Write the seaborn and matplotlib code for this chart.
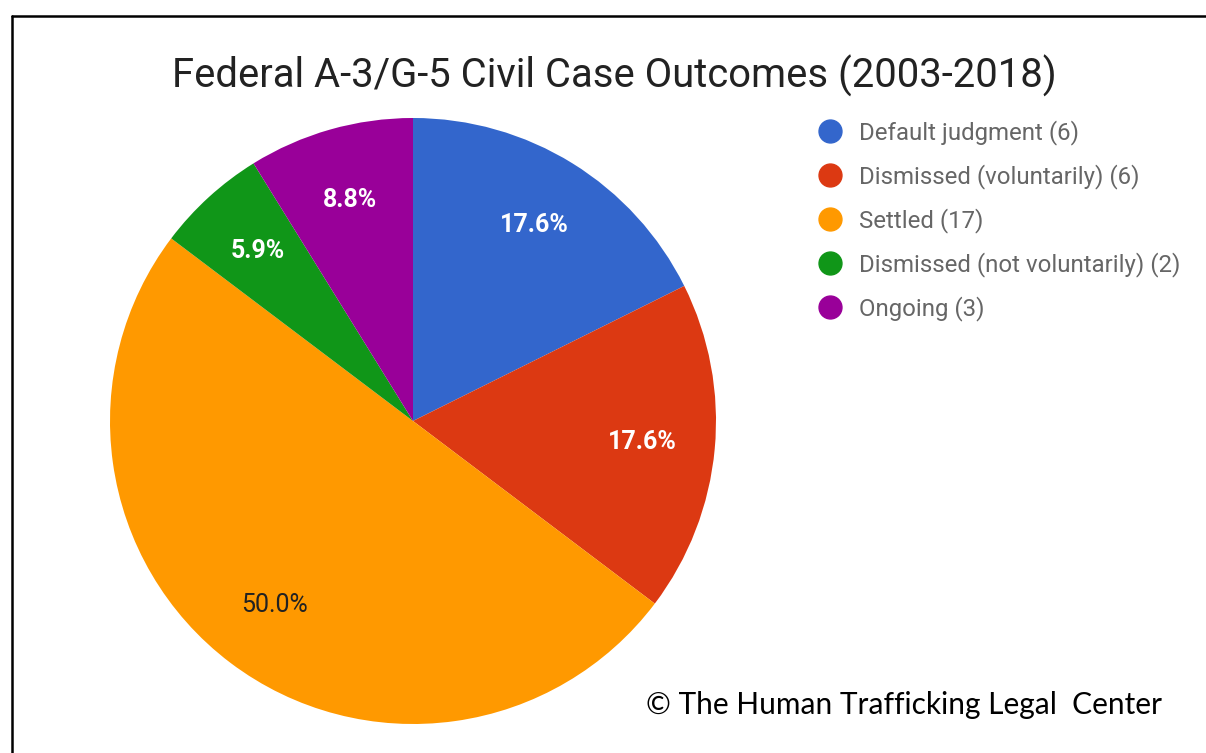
import matplotlib
matplotlib.use("Agg")
import matplotlib.pyplot as plt
import seaborn as sns
from matplotlib.lines import Line2D

categories = [
    "Default judgment",
    "Dismissed (voluntarily)",
    "Settled",
    "Dismissed (not voluntarily)",
    "Ongoing",
]
counts = [6, 6, 17, 2, 3]
colors = ["#3366CC", "#DC3912", "#FF9900", "#109618", "#990099"]
title = "Federal A-3/G-5 Civil Case Outcomes (2003-2018)"
credit = "\u00a9 The Human Trafficking Legal  Center"

sns.set_theme(style="white")
plt.rcParams["font.family"] = ["Roboto", "DejaVu Sans"]

fig = plt.figure(figsize=(12.06, 7.53), dpi=100)
W, H = 1206, 753

# pie axes: centre (413, 421), radius 303 px
cx, cy, r = 413, 421, 303
ax = fig.add_axes([(cx - r) / W, (H - cy - r) / H, 2 * r / W, 2 * r / H])
palette = sns.color_palette(colors)

wedges, texts, autotexts = ax.pie(
    counts,
    colors=palette,
    startangle=90,
    counterclock=False,
    autopct="%1.1f%%",
    pctdistance=0.76,
    wedgeprops=dict(linewidth=0),
    textprops=dict(fontsize=18),
)
for i, t in enumerate(autotexts):
    if counts[i] == max(counts):
        t.set_color("#222222")
    else:
        t.set_color("white")
        t.set_fontweight("bold")
ax.set_xlim(-1, 1)
ax.set_ylim(-1, 1)
ax.set_aspect("equal")
ax.axis("off")

fig.text(614 / W, 1 - 76 / H, title, ha="center", va="center",
         fontsize=28.8, color="#222222")

handles = [
    Line2D([0], [0], marker="o", linestyle="", markersize=16.5,
           markerfacecolor=c, markeredgecolor=c)
    for c in palette
]
labels = [f"{c} ({n})" for c, n in zip(categories, counts)]
fig.legend(
    handles, labels,
    loc="upper left",
    bbox_to_anchor=(794 / W, 1 - 98 / H),
    frameon=False,
    fontsize=17.3,
    labelcolor="#666666",
    handletextpad=0.6,
    labelspacing=0.80,
    handlelength=1.2,
)

fig.text(1162 / W, 1 - 705 / H, credit, ha="right", va="center",
         fontsize=21.5, color="black", family=["Lato", "DejaVu Sans"])

# frame lines on left and top
fig.add_artist(Line2D([12 / W, 12 / W], [0, 1 - 16 / H], color="black",
                      linewidth=1.8, transform=fig.transFigure))
fig.add_artist(Line2D([12 / W, 1], [1 - 16 / H, 1 - 16 / H], color="black",
                      linewidth=1.8, transform=fig.transFigure))

fig.savefig("out.png", dpi=100, facecolor="white")
